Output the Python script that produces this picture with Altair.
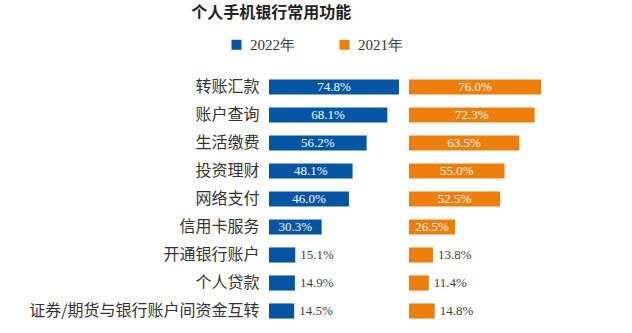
import altair as alt
import pandas as pd

categories = ["转账汇款", "账户查询", "生活缴费", "投资理财", "网络支付", "信用卡服务",
              "开通银行账户", "个人贷款", "证券/期货与银行账户间资金互转"]
values_2022 = [74.8, 68.1, 56.2, 48.1, 46.0, 30.3, 15.1, 14.9, 14.5]
values_2021 = [76.0, 72.3, 63.5, 55.0, 52.5, 26.5, 13.8, 11.4, 14.8]
years = ["2022年", "2021年"]
colors = ["#0455A4", "#EE7E0C"]

rows = []
for c, a, b in zip(categories, values_2022, values_2021):
    rows.append({"cat": c, "year": years[0], "v": a})
    rows.append({"cat": c, "year": years[1], "v": b})
df = pd.DataFrame(rows)
df["label"] = df["v"].map(lambda x: f"{x:.1f}%")

xscale = alt.Scale(domain=[0, 80])


def panel(year, show_axis):
    base = alt.Chart(df).transform_filter(alt.datum.year == year)
    if show_axis:
        yaxis = alt.Axis(title=None, domain=False, ticks=False, labelPadding=10,
                         labelFontSize=16, labelFont="Noto Sans CJK SC",
                         labelColor="#333333", labelLimit=400)
    else:
        yaxis = None
    y = alt.Y("cat:N", sort=categories,
              scale=alt.Scale(paddingInner=0.46, paddingOuter=0.23), axis=yaxis)
    bars = base.mark_bar().encode(
        x=alt.X("v:Q", scale=xscale, axis=None),
        color=alt.Color("year:N", scale=alt.Scale(domain=years, range=colors),
                        legend=alt.Legend(title=None, orient="none", legendX=-40, legendY=-36,
                                          direction="horizontal", symbolType="square",
                                          symbolSize=100, symbolStrokeWidth=0,
                                          labelFont="Liberation Serif", labelFontSize=15,
                                          labelColor="#333333", columnPadding=42,
                                          labelOffset=6)),
    )
    inside = base.transform_filter(alt.datum.v >= 20).transform_calculate(
        mid="datum.v / 2").mark_text(color="white", font="Liberation Serif",
                                     fontSize=13).encode(
        x=alt.X("mid:Q", scale=xscale, axis=None), text="label:N")
    outside = base.transform_filter(alt.datum.v < 20).mark_text(
        color="#404040", font="Liberation Serif", fontSize=13, align="left", dx=5).encode(
        x=alt.X("v:Q", scale=xscale, axis=None), text="label:N")
    return alt.layer(bars, inside, outside).encode(y=y).properties(width=139, height=252)


chart = alt.hconcat(panel(years[0], True), panel(years[1], False), spacing=1).properties(
    title=alt.TitleParams("个人手机银行常用功能", font="Noto Sans CJK SC", fontSize=16,
                          fontWeight="bold", anchor="middle", color="#222222", offset=16,
                          dx=-17),
    padding={"left": 28, "top": 5, "right": 5, "bottom": 5},
).configure_view(stroke=None)

chart.save("out.html", embed_options={"renderer": "svg", "actions": False})
